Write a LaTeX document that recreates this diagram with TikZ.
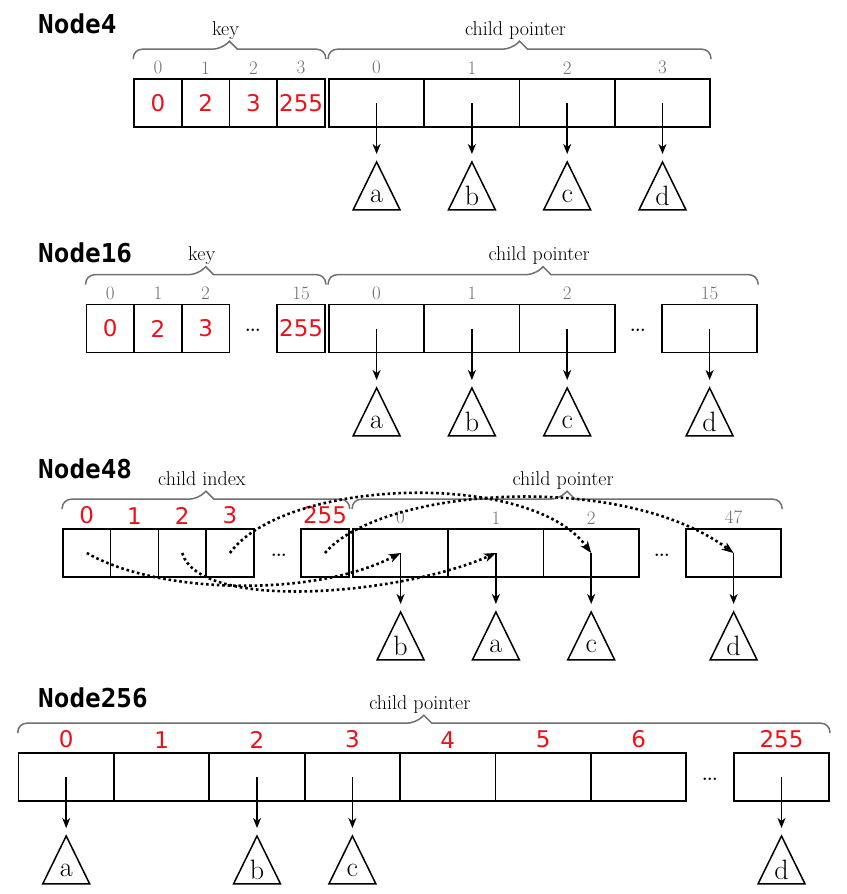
\documentclass[tikz,border=0pt]{standalone}
\usepackage{fontspec}
\usepackage{tikz}
\usetikzlibrary{arrows.meta, positioning, shapes.geometric, calc}
\newfontfamily\monofnt{DejaVu Sans Mono}
\newfontfamily\numfnt{DejaVu Sans}
\definecolor{keyred}{RGB}{238,16,24}
\definecolor{idxgray}{RGB}{112,112,112}

\begin{document}
\begin{tikzpicture}[x=1pt, y=-1pt,
  title/.style={anchor=base west, inner sep=0, font=\monofnt\bfseries\fontsize{26}{26}\selectfont},
  keycell/.style={draw, line width=1.6pt, minimum width=47.7pt, minimum height=48pt, inner sep=0,
                  text=keyred, font=\numfnt\fontsize{23}{23}\selectfont},
  ptrcell/.style={keycell, minimum width=95.3pt},
  idx/.style={inner sep=0, text=idxgray, font=\fontsize{19}{19}\selectfont},
  redidx/.style={inner sep=0, text=keyred, font=\numfnt\fontsize{23}{23}\selectfont},
  gap/.style={anchor=base, inner sep=0, font=\fontsize{30}{30}\selectfont},
  brc/.style={draw=idxgray, line width=1.5pt, to path={
      [rounded corners=9pt] |- ($(\tikztostart)!.5!(\tikztotarget)+(-8pt,10pt)$)
      [sharp corners] -- ($(\tikztostart)!.5!(\tikztotarget)+(0pt,18pt)$) \tikztonodes
      -- ($(\tikztostart)!.5!(\tikztotarget)+(8pt,10pt)$)
      [rounded corners=9pt] -| (\tikztotarget)}},
  brlbl/.style={anchor=base, yshift=10pt, inner sep=0, font=\fontsize{20}{20}\selectfont},
  subtree/.style={draw, line width=1.5pt, isosceles triangle, isosceles triangle stretches,
                  shape border rotate=90, minimum width=47pt, minimum height=48pt, inner sep=0,
                  anchor=apex, font=\fontsize{28}{28}\selectfont},
  ptr/.style={line width=1.5pt, -{Stealth[length=10pt, width=8pt, inset=3pt]}, shorten >=6pt},
  jump/.style={line width=2.6pt, dash pattern=on 2.6pt off 2.8pt,
               -{Stealth[length=12pt, width=9pt, inset=3.5pt, line width=0pt]}}
]
  \useasboundingbox (0,0) rectangle (846,894);

  \node[title] (n4) at (38,33) {Node4};
  \node[keycell] (n4k0) at (157.9,103) {0};
  \node[keycell] (n4k1) at (205.6,103) {2};
  \node[keycell] (n4k2) at (253.4,103) {3};
  \node[keycell] (n4k3) at (301.1,103) {255};
  \node[ptrcell] (n4p0) at (376.6,103) {};
  \node[ptrcell] (n4p1) at (471.9,103) {};
  \node[ptrcell] (n4p2) at (567.2,103) {};
  \node[ptrcell] (n4p3) at (662.5,103) {};
  \node[idx, above=4pt of n4k0] (n4k0i) {0};
  \node[idx, above=4pt of n4k1] (n4k1i) {1};
  \node[idx, above=4pt of n4k2] (n4k2i) {2};
  \node[idx, above=4pt of n4k3] (n4k3i) {3};
  \node[idx, above=4pt of n4p0] (n4p0i) {0};
  \node[idx, above=4pt of n4p1] (n4p1i) {1};
  \node[idx, above=4pt of n4p2] (n4p2i) {2};
  \node[idx, above=4pt of n4p3] (n4p3i) {3};
  \node[subtree] (n4ta) at (376.6,160) {a};
  \node[subtree] (n4tb) at (471.9,160) {b};
  \node[subtree] (n4tc) at (567.2,160) {c};
  \node[subtree] (n4td) at (662.5,160) {d};
  \draw[ptr] (n4p0.center) -- (n4ta.apex);
  \draw[ptr] (n4p1.center) -- (n4tb.apex);
  \draw[ptr] (n4p2.center) -- (n4tc.apex);
  \draw[ptr] (n4p3.center) -- (n4td.apex);
  \draw[brc] ([yshift=19pt]n4k0.north west) to node[brlbl] (n4key) {key} ([yshift=19pt]n4k3.north east);
  \draw[brc] ([yshift=19pt]n4p0.north west) to node[brlbl] (n4child) {child pointer} ([yshift=19pt]n4p3.north east);

  \node[title] (n16) at (38,262) {Node16};
  \node[keycell] (n16k0) at (110.3,328.5) {0};
  \node[keycell] (n16k1) at (157.9,328.5) {2};
  \node[keycell] (n16k2) at (205.6,328.5) {3};
  \node[keycell] (n16k15) at (301.1,328.5) {255};
  \node[gap] (n16kgap) at (253,331.5) {\dots};
  \node[ptrcell] (n16p0) at (376.6,328.5) {};
  \node[ptrcell] (n16p1) at (471.9,328.5) {};
  \node[ptrcell] (n16p2) at (567.2,328.5) {};
  \node[ptrcell] (n16p15) at (709.6,328.5) {};
  \node[gap] (n16pgap) at (638,331.5) {\dots};
  \node[idx, above=4pt of n16k0] (n16k0i) {0};
  \node[idx, above=4pt of n16k1] (n16k1i) {1};
  \node[idx, above=4pt of n16k2] (n16k2i) {2};
  \node[idx, above=4pt of n16k15] (n16k15i) {15};
  \node[idx, above=4pt of n16p0] (n16p0i) {0};
  \node[idx, above=4pt of n16p1] (n16p1i) {1};
  \node[idx, above=4pt of n16p2] (n16p2i) {2};
  \node[idx, above=4pt of n16p15] (n16p15i) {15};
  \node[subtree] (n16ta) at (376.6,386) {a};
  \node[subtree] (n16tb) at (471.9,386) {b};
  \node[subtree] (n16tc) at (567.2,386) {c};
  \node[subtree] (n16td) at (709.6,386) {d};
  \draw[ptr] (n16p0.center) -- (n16ta.apex);
  \draw[ptr] (n16p1.center) -- (n16tb.apex);
  \draw[ptr] (n16p2.center) -- (n16tc.apex);
  \draw[ptr] (n16p15.center) -- (n16td.apex);
  \draw[brc] ([yshift=19pt]n16k0.north west) to node[brlbl] (n16key) {key} ([yshift=19pt]n16k15.north east);
  \draw[brc] ([yshift=19pt]n16p0.north west) to node[brlbl] (n16child) {child pointer} ([yshift=19pt]n16p15.north east);

  \node[title] (n48) at (38,478) {Node48};
  \node[keycell] (n48k0) at (86.8,553) {};
  \node[keycell] (n48k1) at (134.5,553) {};
  \node[keycell] (n48k2) at (182.2,553) {};
  \node[keycell] (n48k3) at (229.9,553) {};
  \node[keycell] (n48k255) at (325,553) {};
  \node[gap] (n48kgap) at (279,556) {\dots};
  \node[ptrcell] (n48p0) at (400.6,553) {};
  \node[ptrcell] (n48p1) at (495.9,553) {};
  \node[ptrcell] (n48p2) at (591.2,553) {};
  \node[ptrcell] (n48p47) at (733.6,553) {};
  \node[gap] (n48pgap) at (662,556) {\dots};
  \node[redidx, above=4pt of n48k0] (n48k0i) {0};
  \node[redidx, above=4pt of n48k1] (n48k1i) {1};
  \node[redidx, above=4pt of n48k2] (n48k2i) {2};
  \node[redidx, above=4pt of n48k3] (n48k3i) {3};
  \node[redidx, above=4pt of n48k255] (n48k255i) {255};
  \node[idx, above=4pt of n48p0] (n48p0i) {0};
  \node[idx, above=4pt of n48p1] (n48p1i) {1};
  \node[idx, above=4pt of n48p2] (n48p2i) {2};
  \node[idx, above=4pt of n48p47] (n48p47i) {47};
  \node[subtree] (n48tb) at (400.6,610) {b};
  \node[subtree] (n48ta) at (495.9,610) {a};
  \node[subtree] (n48tc) at (591.2,610) {c};
  \node[subtree] (n48td) at (733.6,610) {d};
  \draw[ptr] (n48p0.center) -- (n48tb.apex);
  \draw[ptr] (n48p1.center) -- (n48ta.apex);
  \draw[ptr] (n48p2.center) -- (n48tc.apex);
  \draw[ptr] (n48p47.center) -- (n48td.apex);
  \draw[brc] ([yshift=19pt]n48k0.north west) to node[brlbl] (n48index) {child index} ([yshift=19pt]n48k255.north east);
  \draw[brc] ([yshift=19pt]n48p0.north west) to node[brlbl] (n48child) {child pointer} ([yshift=19pt]n48p47.north east);
  \draw[jump] (n48k0.center) .. controls (160,595) and (315,597) .. (n48p0.center);
  \draw[jump] (n48k2.center) .. controls (200,612) and (400,595) .. (n48p1.center);
  \draw[jump] (n48k3.center) .. controls (285,478) and (530,470) .. (n48p2.center);
  \draw[jump] (n48k255.center) .. controls (380,488) and (620,470) .. (n48p47.center);

  \node[title] (n256) at (38,707) {Node256};
  \node[ptrcell] (n256c0) at (66.2,777) {};
  \node[ptrcell] (n256c1) at (161.6,777) {};
  \node[ptrcell] (n256c2) at (257.0,777) {};
  \node[ptrcell] (n256c3) at (352.4,777) {};
  \node[ptrcell] (n256c4) at (447.8,777) {};
  \node[ptrcell] (n256c5) at (543.2,777) {};
  \node[ptrcell] (n256c6) at (638.6,777) {};
  \node[ptrcell] (n256c255) at (781.5,777) {};
  \node[gap] (n256gap) at (710,780) {\dots};
  \node[redidx, above=4pt of n256c0] (n256c0i) {0};
  \node[redidx, above=4pt of n256c1] (n256c1i) {1};
  \node[redidx, above=4pt of n256c2] (n256c2i) {2};
  \node[redidx, above=4pt of n256c3] (n256c3i) {3};
  \node[redidx, above=4pt of n256c4] (n256c4i) {4};
  \node[redidx, above=4pt of n256c5] (n256c5i) {5};
  \node[redidx, above=4pt of n256c6] (n256c6i) {6};
  \node[redidx, above=4pt of n256c255] (n256c255i) {255};
  \node[subtree] (n256ta) at (66.2,834) {a};
  \node[subtree] (n256tb) at (257.0,834) {b};
  \node[subtree] (n256tc) at (352.4,834) {c};
  \node[subtree] (n256td) at (781.5,834) {d};
  \draw[ptr] (n256c0.center) -- (n256ta.apex);
  \draw[ptr] (n256c2.center) -- (n256tb.apex);
  \draw[ptr] (n256c3.center) -- (n256tc.apex);
  \draw[ptr] (n256c255.center) -- (n256td.apex);
  \draw[brc] ([yshift=19pt]n256c0.north west) to node[brlbl] (n256child) {child pointer} ([yshift=19pt]n256c255.north east);
\end{tikzpicture}
\end{document}
